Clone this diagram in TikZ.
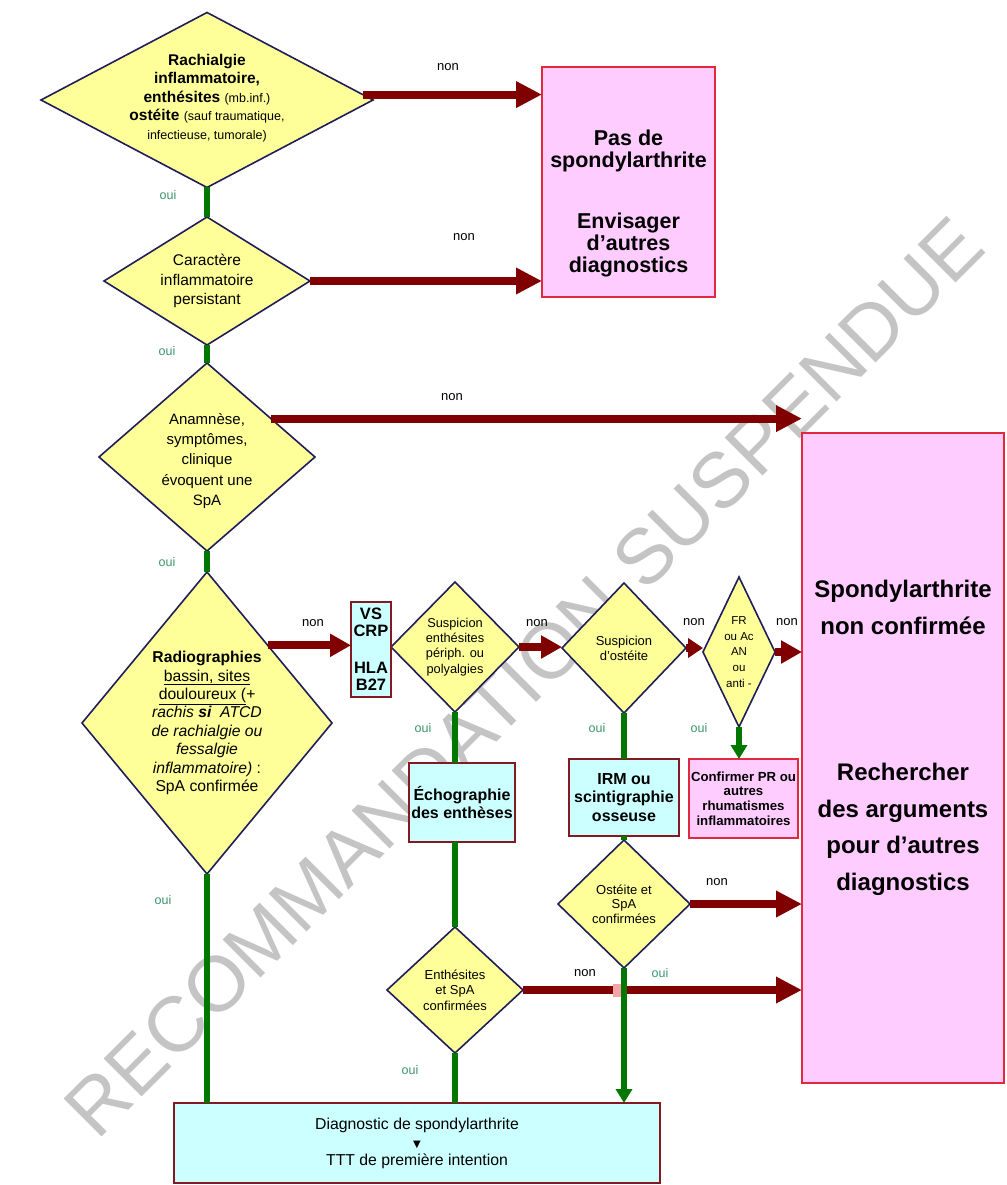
\documentclass[tikz,border=0pt]{standalone}
\usepackage{fontspec}
\setmainfont{Liberation Sans}
\newfontfamily\dejavu{DejaVu Sans}
\usetikzlibrary{arrows.meta,calc,shapes.geometric}
\definecolor{navy}{RGB}{30,30,90}
\definecolor{lyel}{RGB}{255,255,153}
\definecolor{lpink}{RGB}{255,204,255}
\definecolor{rborder}{RGB}{225,40,60}
\definecolor{lcyan}{RGB}{204,255,255}
\definecolor{maroonb}{RGB}{130,25,35}
\definecolor{darr}{RGB}{128,0,0}
\definecolor{garr}{RGB}{0,120,0}
\definecolor{ouicol}{RGB}{60,150,110}
\definecolor{wmark}{RGB}{196,196,196}
\definecolor{salmonsq}{RGB}{245,165,165}
\newcommand\wsmall[1]{{\fontsize{12.5}{18.3}\selectfont #1}}
\tikzset{
 dia/.style={diamond, draw=navy, fill=lyel, line width=1.6pt, inner sep=0pt, outer sep=0pt},
 txt/.style={align=center, inner sep=0pt, text=black},
 pbox/.style={rectangle, draw=rborder, fill=lpink, line width=1.5pt, inner sep=0pt, outer sep=0pt},
 cbox/.style={rectangle, draw=maroonb, fill=lcyan, line width=1.6pt, inner sep=0pt, outer sep=0pt, align=center},
 nonarrow/.style={draw=darr, line width=8pt, -{Triangle[length=26pt,width=25pt]}},
 nonarrows/.style={draw=darr, line width=8pt, -{Triangle[length=21pt,width=22pt]}},
 nonarrowxs/.style={draw=darr, line width=8pt, -{Triangle[length=15pt,width=19pt]}},
 ouiline/.style={draw=garr, line width=5.5pt},
 ouiarrow/.style={draw=garr, line width=5.5pt, -{Triangle[length=14pt,width=16pt]}},
 nonlbl/.style={font=\fontsize{13}{14}\selectfont, text=black, inner sep=0pt},
 ouilbl/.style={font=\fontsize{12.5}{14}\selectfont, text=ouicol, inner sep=0pt},
 wm/.style={rotate=45, text=wmark, font=\fontsize{78}{78}\selectfont, inner sep=0pt},
}
\begin{document}
\begin{tikzpicture}[x=1pt,y=-1pt]
\useasboundingbox (0,0) rectangle (1006,1185);
\fill[white] (0,0) rectangle (1006,1185);
% watermark
\node[wm] (WM) at (524,677) {RECOMMANDATION SUSPENDUE};

% diamonds
\node[dia, minimum width=332pt, minimum height=175pt] (D1) at (207,100) {};
\node[dia, minimum width=206pt, minimum height=128pt] (D2) at (207,281) {};
\node[dia, minimum width=216pt, minimum height=188pt] (D3) at (207,457) {};
\node[dia, minimum width=250pt, minimum height=302pt] (D4) at (207,723) {};
\node[dia, minimum width=128pt, minimum height=130pt] (D5) at (455,647) {};
\node[dia, minimum width=124pt, minimum height=130pt] (D6) at (624,648) {};
\node[dia, minimum width=72pt, minimum height=150pt] (D7) at (739,652) {};
\node[dia, minimum width=132pt, minimum height=128pt] (D9) at (624,904) {};
\node[dia, minimum width=136pt, minimum height=126pt] (D8) at (455,990) {};

% boxes
\node[pbox, minimum width=173pt, minimum height=230pt] (B1) at (628.5,182) {};
\node[pbox, minimum width=202pt, minimum height=650pt] (B2) at (903,758) {};
\node[cbox, minimum width=40pt, minimum height=95pt, font=\bfseries\fontsize{16.5}{17}\selectfont] (VS) at (371,649.5) {VS\\CRP\\[20pt]HLA\\B27};
\node[cbox, minimum width=106pt, minimum height=79pt, font=\bfseries\fontsize{16}{18.3}\selectfont] (EC) at (462,802.5) {Échographie\\des enthèses};
\node[cbox, minimum width=110pt, minimum height=77pt, font=\bfseries\fontsize{16}{18.5}\selectfont] (IRM) at (624,797.5) {IRM ou\\scintigraphie\\osseuse};
\node[pbox, minimum width=109pt, minimum height=79pt, align=center, font=\bfseries\fontsize{13.2}{14.7}\selectfont] (CF) at (743.5,798.5) {Confirmer PR ou\\autres\\rhumatismes\\inflammatoires};
\node[cbox, minimum width=486pt, minimum height=80pt, font=\fontsize{15.8}{18}\selectfont] (BB) at (417,1143) {Diagnostic de spondylarthrite\\{\dejavu\fontsize{10}{18}\selectfont ▼}\\TTT de première intention};

% texts in shapes
\node[txt, font=\bfseries\fontsize{15.5}{18.6}\selectfont] (D1t) at (207,98) {Rachialgie\\inflammatoire,\\enthésites \wsmall{\mdseries(mb.inf.)}\\ostéite \wsmall{\mdseries(sauf traumatique,}\\\wsmall{\mdseries infectieuse, tumorale)}};
\node[txt, font=\fontsize{15.5}{19.5}\selectfont] (D2t) at (D2) {Caractère\\inflammatoire\\persistant};
\node[txt, font=\fontsize{15}{20.3}\selectfont] (D3t) at (207,461) {Anamnèse,\\symptômes,\\clinique\\évoquent une\\SpA};
\node[txt, font=\fontsize{15.7}{18.4}\selectfont] (D4t) at (D4) {\textbf{Radiographies}\\\underline{bassin, sites}\\\underline{douloureux (}\textit{+}\\\textit{rachis \textbf{si}\ \ ATCD}\\\textit{de rachialgie ou}\\\textit{fessalgie}\\\textit{inflammatoire)} :\\SpA confirmée};
\node[txt, font=\fontsize{12.8}{15.3}\selectfont] (D5t) at (D5) {Suspicion\\enthésites\\périph. ou\\polyalgies};
\node[txt, font=\fontsize{13}{15}\selectfont] (D6t) at (D6) {Suspicion\\d'ostéite};
\node[txt, font=\fontsize{11.5}{15.7}\selectfont] (D7t) at (D7) {FR\\ou Ac\\AN\\ou\\anti -};
\node[txt, font=\fontsize{13}{14.5}\selectfont] (D9t) at (D9) {Ostéite et\\SpA\\confirmées};
\node[txt, font=\fontsize{13}{15.5}\selectfont] (D8t) at (D8) {Enthésites\\et SpA\\confirmées};
\node[txt, font=\bfseries\fontsize{21.5}{22}\selectfont] (B1t) at (628.5,203) {Pas de\\spondylarthrite\\[39pt]Envisager\\d’autres\\diagnostics};
\node[txt, font=\bfseries\fontsize{24}{36.5}\selectfont] (B2t) at (903,738) {Spondylarthrite\\non confirmée\\[110pt]Rechercher\\des arguments\\pour d’autres\\diagnostics};

% red arrows (non)
\draw[nonarrow] (D1.2.6) -- (D1.2.6 -| B1.west);
\draw[nonarrow] (D2.east) -- (D2.east -| B1.west);
\draw[nonarrow] (D3.31.7) -- (D3.31.7 -| B2.west);
\draw[nonarrows] (D4.52.2) -- (D4.52.2 -| VS.west);
\draw[nonarrows] (D5.east) -- (D5.east -| D6.west);
\draw[nonarrowxs] (D6.east) -- (D6.east -| D7.west);
\draw[nonarrows] (D7.east) -- (D7.east -| B2.west);
\draw[nonarrow] (D9.east) -- (D9.east -| B2.west);
\draw[nonarrow] (D8.east) -- (D8.east -| B2.west);
\node[fill=salmonsq, minimum width=11pt, minimum height=13pt, inner sep=0pt] (SQ) at (618,990) {};

% green lines (oui)
\draw[ouiline] (D1.south) -- (D2.north);
\draw[ouiline] (D2.south) -- (D3.north);
\draw[ouiline] (D3.south) -- (D4.north);
\draw[ouiline] (D4.south) -- (D4.south |- BB.north);
\draw[ouiline] (D5.south) -- (D5.south |- EC.north);
\draw[ouiline] (D8.north |- EC.south) -- (D8.north);
\draw[ouiline] (D8.south) -- (D8.south |- BB.north);
\draw[ouiline] (D6.south) -- (IRM.north);
\draw[ouiline] (IRM.south) -- (D9.north);
\draw[ouiarrow] (D9.south) -- (D9.south |- BB.north);
\draw[ouiarrow] (D7.south) -- (D7.south |- CF.north);

% labels
\node[nonlbl] (n1) at (448,67) {non};
\node[nonlbl] (n2) at (464,237) {non};
\node[nonlbl] (n3) at (452,397) {non};
\node[nonlbl] (n4) at (313,623) {non};
\node[nonlbl] (n5) at (537,623) {non};
\node[nonlbl] (n6) at (694,622) {non};
\node[nonlbl] (n7) at (787,622) {non};
\node[nonlbl] (n8) at (717,882) {non};
\node[nonlbl] (n9) at (585,973) {non};
\node[ouilbl] (o1) at (168,195) {oui};
\node[ouilbl] (o2) at (167,351) {oui};
\node[ouilbl] (o3) at (167,562) {oui};
\node[ouilbl] (o4) at (163,900) {oui};
\node[ouilbl] (o5) at (423,728) {oui};
\node[ouilbl] (o6) at (597,728) {oui};
\node[ouilbl] (o7) at (699,728) {oui};
\node[ouilbl] (o8) at (660,973) {oui};
\node[ouilbl] (o9) at (410,1070) {oui};
\end{tikzpicture}
\end{document}
